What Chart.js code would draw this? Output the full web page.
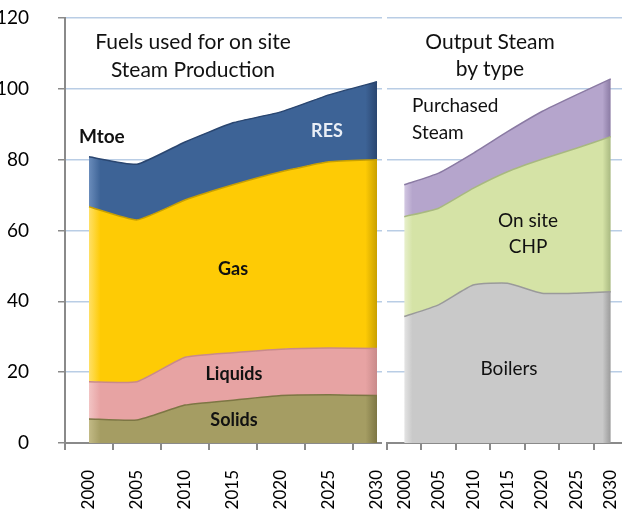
<!DOCTYPE html>
<html>
<head>
<meta charset="utf-8">
<script src="https://cdn.jsdelivr.net/npm/chart.js@4/dist/chart.umd.min.js"></script>
<style>
  html, body { margin: 0; padding: 0; background: #fff; overflow: hidden; }
  #wrap { position: relative; width: 622px; height: 512px; overflow: hidden; }
  canvas { position: absolute; top: 0; }
  #fuels { left: 0; }
  #steam { left: 382px; background: #fff; }
  .lbl { position: absolute; font-family: Lato, "Open Sans", sans-serif; font-size: 19px; line-height: 19px; color: #111; white-space: nowrap; z-index: 5; }
  .t { font-size: 21px; line-height: 21px; }
  .c { transform: translateX(-50%); }
  .b { font-weight: bold; font-size: 18px; line-height: 18px; }
</style>
</head>
<body>
<div id="wrap">
  <canvas id="fuels" width="402" height="512"></canvas>
  <canvas id="steam" width="250" height="512"></canvas>

  <div class="lbl t c" style="left:193px; top:30px;">Fuels used for on site</div>
  <div class="lbl t c" style="left:193px; top:58px;">Steam Production</div>
  <div class="lbl b" style="left:79px; top:127px; font-size:19px;">Mtoe</div>
  <div class="lbl b c" style="left:327px; top:121px; color:#e9eef6;">RES</div>
  <div class="lbl b c" style="left:233px; top:259px;">Gas</div>
  <div class="lbl b c" style="left:234px; top:364px;">Liquids</div>
  <div class="lbl b c" style="left:234px; top:410px;">Solids</div>

  <div class="lbl t c" style="left:490px; top:30px;">Output Steam</div>
  <div class="lbl t c" style="left:490px; top:57px;">by type</div>
  <div class="lbl" style="left:412px; top:95px;">Purchased</div>
  <div class="lbl" style="left:412px; top:122px;">Steam</div>
  <div class="lbl c" style="left:528px; top:210px;">On site</div>
  <div class="lbl c" style="left:528px; top:236px;">CHP</div>
  <div class="lbl c" style="left:509px; top:358px;">Boilers</div>
</div>

<script>
// x categories
const years = ['2000', '2005', '2010', '2015', '2020', '2025', '2030'];

// left panel: fuels used for on site steam production (Mtoe, stacked)
const solids  = [6.8, 6.5, 10.7, 12.1, 13.4, 13.6, 13.4];
const liquids = [10.5, 10.8, 13.5, 13.4, 13.1, 13.2, 13.3];
const gas     = [49.4, 45.7, 44.4, 47.4, 50.1, 52.6, 53.3];
const res     = [14.1, 15.7, 16.4, 17.5, 16.9, 18.9, 22.0];

// right panel: output steam by type (stacked)
const boilers   = [35.7, 39.0, 44.6, 45.1, 42.3, 42.3, 42.7];
const chp       = [28.2, 27.3, 27.3, 31.5, 37.8, 40.9, 43.8];
const purchased = [9.0, 9.9, 9.9, 11.3, 13.5, 15.1, 16.3];

// y axis
const yMin = 0;
const yMax = 120;
const yStep = 20;

const GRID = '#b9cde5';
const AXIS = '#8a8a8a';
const NONE = 'rgba(0,0,0,0)';

// horizontal shading to fake the bevelled look of the original
function shaded(light, base, dark) {
    return (context) => {
        const chart = context.chart;
        const x = chart.scales.x;
        if (!chart.chartArea || !x) return base;
        const x0 = x.getPixelForValue(0);
        const x1 = x.getPixelForValue(years.length - 1);
        const g = chart.ctx.createLinearGradient(x0, 0, x1, 0);
        g.addColorStop(0, light);
        g.addColorStop(0.04, base);
        g.addColorStop(0.96, base);
        g.addColorStop(1, dark);
        return g;
    };
}

function area(label, data, light, base, dark, first) {
    return {
        label: label,
        data: data,
        backgroundColor: shaded(light, base, dark),
        borderColor: dark,
        borderWidth: 1.5,
        fill: first ? 'origin' : '-1',
        pointRadius: 0,
        tension: 0.15
    };
}

function buildOptions(showY, padding) {
    return {
        responsive: false,
        animation: false,
        events: [],
        layout: { padding: padding },
        plugins: { legend: { display: false }, tooltip: { enabled: false } },
        scales: {
            x: {
                stacked: true,
                offset: true,
                grid: { offset: true, drawOnChartArea: false, color: AXIS, tickColor: AXIS, tickLength: 7, lineWidth: 2 },
                border: { color: AXIS, width: 2 },
                ticks: {
                    minRotation: 90, maxRotation: 90, padding: 20, color: '#000',
                    font: { family: 'Lato', size: 17 }
                },
                afterFit: (axis) => {
                    axis.height = 69;
                    axis.paddingLeft = 0;
                    axis.paddingRight = 0;
                }
            },
            y: {
                stacked: true,
                min: yMin,
                max: yMax,
                grid: { color: GRID, lineWidth: 1.5, tickColor: showY ? AXIS : NONE, tickLength: 7, drawTicks: showY },
                border: { display: showY, color: showY ? AXIS : NONE, width: showY ? 2 : 0 },
                ticks: {
                    display: showY, stepSize: yStep, padding: 29, color: '#000',
                    font: { family: 'Lato', size: 19 }
                },
                afterFit: (axis) => {
                    axis.width = showY ? 65 : 0;
                    axis.paddingTop = 0;
                    axis.paddingBottom = 0;
                }
            }
        }
    };
}

new Chart(document.getElementById('fuels'), {
    type: 'line',
    data: {
        labels: years,
        datasets: [
            area('Solids', solids, '#c2ba86', '#a59d63', '#7d7644', true),
            area('Liquids', liquids, '#f2c4c4', '#e7a3a3', '#c98a8a', false),
            area('Gas', gas, '#ffe066', '#fecb05', '#c9a000', false),
            area('RES', res, '#6a8cbb', '#3d6396', '#2a4670', false)
        ]
    },
    options: buildOptions(true, { top: 18, right: 1, left: 0, bottom: 0 })
});

new Chart(document.getElementById('steam'), {
    type: 'line',
    data: {
        labels: years,
        datasets: [
            area('Boilers', boilers, '#e4e4e4', '#c9c9c9', '#9a9a9a', true),
            area('On site CHP', chp, '#e8f0cc', '#d5e3a6', '#a8b880', false),
            area('Purchased Steam', purchased, '#d3c8e2', '#b5a5cc', '#8a7aa3', false)
        ]
    },
    options: buildOptions(false, { top: 18, right: 4, left: 5, bottom: 0 })
});
</script>
</body>
</html>
